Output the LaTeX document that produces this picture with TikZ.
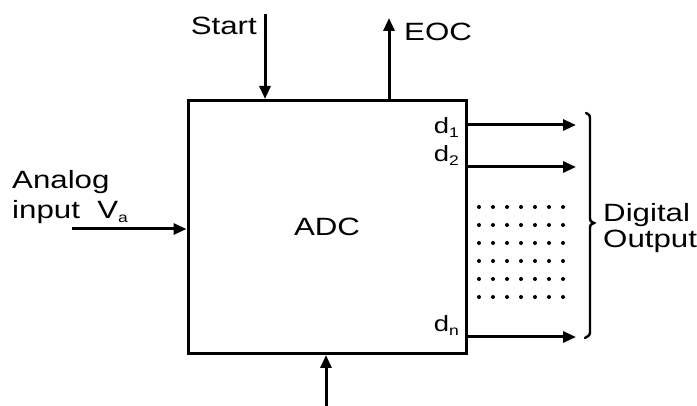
\documentclass[tikz,border=0pt]{standalone}
\usepackage{fontspec}
\setmainfont{Liberation Sans}[FakeStretch=1.25]
\usetikzlibrary{arrows.meta}
\newcommand{\lowsub}[1]{\raisebox{-3.5pt}{\fontsize{14}{14}\selectfont #1}}
\begin{document}
\begin{tikzpicture}[x=1pt,y=-1pt,
  wire/.style={line width=3pt},
  arr/.style={wire,-{Triangle[length=13pt,width=11pt]}},
  lbl/.style={font=\fontsize{25}{28}\selectfont,inner sep=0pt},
  dlbl/.style={font=\fontsize{22}{24}\selectfont,inner sep=0pt,anchor=base east},
  dot/.style={fill=black,circle,inner sep=0pt,minimum size=4pt}]
\useasboundingbox (0,0) rectangle (697,406);
\node[draw,line width=3pt,minimum width=278pt,minimum height=253pt,inner sep=0pt,
  font=\fontsize{25}{28}\selectfont] (adc) at (327,227) {\raisebox{-2pt}{ADC}};
% start
\coordinate (st) at (265,14);
\draw[arr] (st) -- (st |- adc.north);
\node[lbl,anchor=base east] (start) at (257,35) {Start};
% EOC
\coordinate (eoc) at (389,18);
\draw[arr] (eoc |- adc.north) -- (eoc);
\node[lbl,anchor=base west] (eoct) at (404,41) {EOC};
% analog
\coordinate (ai) at (72,229);
\draw[arr] (ai) -- (ai -| adc.west);
\node[lbl,anchor=base west] (an1) at (12,189) {Analog};
\node[lbl,anchor=base west] (an2) at (12,219) {input\ \ V\lowsub{a}};
% bottom
\coordinate (bt) at (326,406);
\draw[arr] (bt) -- (bt |- adc.south);
% outputs
\coordinate (o1) at (576,125);
\coordinate (o2) at (576,167);
\coordinate (on) at (576,337);
\draw[arr] (o1 -| adc.east) -- (o1);
\draw[arr] (o2 -| adc.east) -- (o2);
\draw[arr] (on -| adc.east) -- (on);
\node[dlbl] (d1) at (459,134) {d\lowsub{1}};
\node[dlbl] (d2) at (459,162) {d\lowsub{2}};
\node[dlbl] (dn) at (459,332) {d\lowsub{n}};
% dots
\foreach \r in {0,...,5}{
  \foreach \c in {0,...,6}{
    \node[dot] (p\r\c) at ({479+14*\c},{207+18*\r}) {};
  }
}
% brace
\draw[line width=2.4pt,line cap=round] (586,113) .. controls (590,115) .. (590,122)
  -- (590,216) .. controls (590,221) .. (594,223) .. controls (590,225) .. (590,230)
  -- (590,330) .. controls (590,335) .. (585,338);
\node[lbl,anchor=base west] (dig) at (603,222) {Digital};
\node[lbl,anchor=base west] (out) at (603,248) {Output};
\end{tikzpicture}
\end{document}
